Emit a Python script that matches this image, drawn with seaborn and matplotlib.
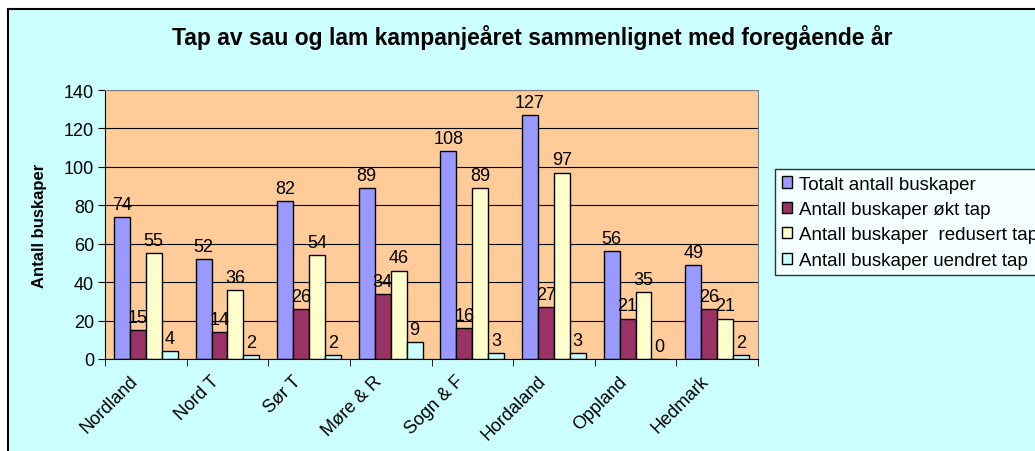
import numpy as np
import pandas as pd
import matplotlib
matplotlib.use('Agg')
import matplotlib.pyplot as plt
import matplotlib.transforms as mtransforms
from matplotlib.patches import Rectangle
import seaborn as sns

regions = ['Nordland', 'Nord T', 'Sør T', 'Møre & R', 'Sogn & F', 'Hordaland', 'Oppland', 'Hedmark']
series = ['Totalt antall buskaper', 'Antall buskaper økt tap',
          'Antall buskaper  redusert tap', 'Antall buskaper uendret tap']
totalt = [74, 52, 82, 89, 108, 127, 56, 49]
okt = [15, 14, 26, 34, 16, 27, 21, 26]
redusert = [55, 36, 54, 46, 89, 97, 35, 21]
uendret = [4, 2, 2, 9, 3, 3, 0, 2]
colors = ['#9999FF', '#993366', '#FFFFCC', '#CCFFFF']

df = pd.DataFrame({
    'region': regions * 4,
    'serie': np.repeat(series, len(regions)),
    'verdi': totalt + okt + redusert + uendret,
})

sns.set_style('white')
plt.rcParams['font.family'] = ['Liberation Sans', 'DejaVu Sans']
plt.rcParams.update({'text.color': 'black', 'axes.labelcolor': 'black',
                     'xtick.color': 'black', 'ytick.color': 'black'})

fig = plt.figure(figsize=(10.35, 4.52), dpi=100)
fig.patch.set_facecolor('white')
# cyan chart area with black frame (bottom/right run off the image)
fig.patches.append(Rectangle((8 / 1035, -0.05), 1.1, 1 - 10 / 452 + 0.05,
                             transform=fig.transFigure, facecolor='#CCFFFF',
                             edgecolor='black', linewidth=1.5, zorder=-5))

ax = fig.add_axes([105 / 1035, 1 - 360 / 452, (758 - 105) / 1035, (360 - 91) / 452])
ax.set_facecolor('#FFCC99')
sns.barplot(data=df, x='region', y='verdi', hue='serie', palette=colors,
            saturation=1, edgecolor='black', linewidth=1, width=0.78, ax=ax)

for c in ax.containers:
    ax.bar_label(c, padding=3, fontsize=13)

ax.set_ylim(0, 140)
ax.set_yticks(range(0, 141, 20))
ax.set_xlim(-0.5, len(regions) - 0.5)
ax.yaxis.grid(True, color='black', linewidth=0.8)
ax.set_axisbelow(True)
for s in ['top', 'right']:
    ax.spines[s].set_color('#808080')
for s in ['left', 'bottom']:
    ax.spines[s].set_color('black')
ax.tick_params(axis='y', length=5, direction='out', left=True, labelsize=13, pad=3)
ax.set_xticks(np.arange(-0.5, len(regions), 1), minor=True)
ax.tick_params(axis='x', which='minor', length=5, bottom=True)
ax.tick_params(axis='x', which='major', length=0, labelsize=13, pad=6)
ax.set_xticklabels(regions, rotation=45, ha='right', rotation_mode='anchor')
shift = mtransforms.ScaledTranslation(-17 / 100, -5 / 100, fig.dpi_scale_trans)
for lab in ax.get_xticklabels():
    lab.set_transform(lab.get_transform() + shift)
ax.set_xlabel('')
ax.set_ylabel('Antall buskaper', fontsize=12, fontweight='bold', labelpad=12)

fig.text(532 / 1035, 1 - 38 / 452, 'Tap av sau og lam kampanjeåret sammenlignet med foregående år',
         ha='center', va='center', fontsize=16.5, fontweight='bold')

leg = ax.legend(loc='upper left', bbox_to_anchor=(775 / 1035, 1 - 170 / 452),
                bbox_transform=fig.transFigure, frameon=True, fancybox=False,
                edgecolor='black', fontsize=13.5, handlelength=0.55, handleheight=0.55,
                handletextpad=0.4, labelspacing=0.45, borderaxespad=0, borderpad=0.35)
leg.get_frame().set_facecolor('white')
leg.get_frame().set_linewidth(1)

plt.savefig('out.png', dpi=100)
